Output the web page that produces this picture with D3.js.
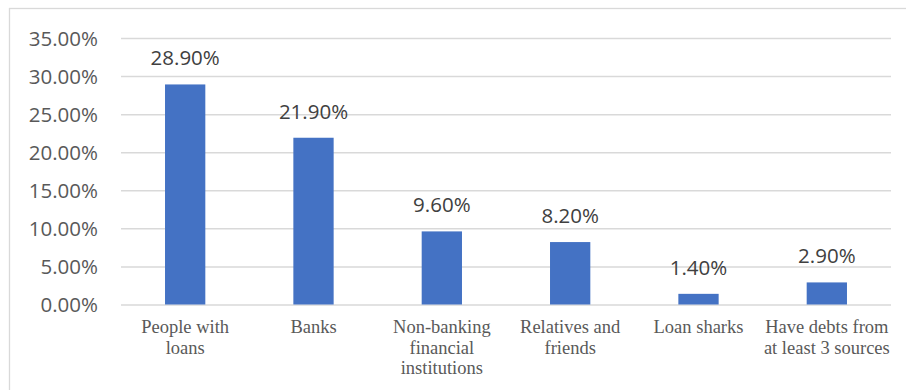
<!DOCTYPE html>
<html><head><meta charset="utf-8">
<script src="https://cdn.jsdelivr.net/npm/d3@7"></script>
<style>
html,body{margin:0;padding:0;background:#fff;}
svg{display:block;}
</style></head>
<body>
<svg id="chart" width="906" height="390"></svg>
<script>
const categories = ["People with\nloans", "Banks", "Non-banking\nfinancial\ninstitutions", "Relatives and\nfriends", "Loan sharks", "Have debts from\nat least 3 sources"];
const values = [28.9, 21.9, 9.6, 8.2, 1.4, 2.9];
const yTicks = [0, 5, 10, 15, 20, 25, 30, 35];

const svg = d3.select("#chart");
const plot = {left: 121, right: 891, top: 38, bottom: 304.5};

// chart border
svg.append("rect").attr("x", 9.5).attr("y", 8.5).attr("width", 920).attr("height", 400)
  .attr("fill", "none").attr("stroke", "#d9d9d9").attr("stroke-width", 1.3);

const x = d3.scaleBand().domain(categories).range([plot.left, plot.right]).paddingInner(0.686).paddingOuter(0.343);
const y = d3.scaleLinear().domain([0, 35]).range([plot.bottom, plot.top]);

// gridlines + y labels via axis
const yAxis = d3.axisLeft(y).tickValues(yTicks).tickSize(-(plot.right - plot.left)).tickPadding(23)
  .tickFormat(d => d.toFixed(2) + "%");
const gy = svg.append("g").attr("transform", `translate(${plot.left},0)`).call(yAxis);
gy.select(".domain").remove();
gy.selectAll(".tick line").attr("stroke", "#d9d9d9").attr("stroke-width", 1.5);
gy.selectAll(".tick text").attr("fill", "#595959").attr("font-family", "'Open Sans', sans-serif")
  .attr("font-size", "20.5px").attr("dy", "0.35em");

// bars
svg.append("g").selectAll("rect").data(values).join("rect")
  .attr("x", (d, i) => x(categories[i]))
  .attr("width", x.bandwidth())
  .attr("y", d => y(d))
  .attr("height", d => y(0) - y(d))
  .attr("fill", "#4472C4");

// value labels
svg.append("g").selectAll("text").data(values).join("text")
  .attr("x", (d, i) => x(categories[i]) + x.bandwidth() / 2)
  .attr("y", d => y(d) - 19)
  .attr("text-anchor", "middle")
  .attr("font-family", "'Open Sans', sans-serif")
  .attr("font-size", "20.5px")
  .attr("fill", "#404040")
  .text(d => d.toFixed(2) + "%");

// category labels
const xAxis = d3.axisBottom(x).tickSize(0).tickFormat("");
const gx = svg.append("g").attr("transform", `translate(0,${plot.bottom})`).call(xAxis);
gx.select(".domain").remove();
gx.selectAll(".tick").each(function(d) {
  const t = d3.select(this).append("text")
    .attr("text-anchor", "middle")
    .attr("font-family", "'Liberation Serif', 'Times New Roman', serif")
    .attr("font-size", "18.5px")
    .attr("fill", "#595959");
  d.split("\n").forEach((line, k) => {
    t.append("tspan").attr("x", 0).attr("y", 28.3 + k * 20.8).text(line);
  });
});
</script>
</body></html>
